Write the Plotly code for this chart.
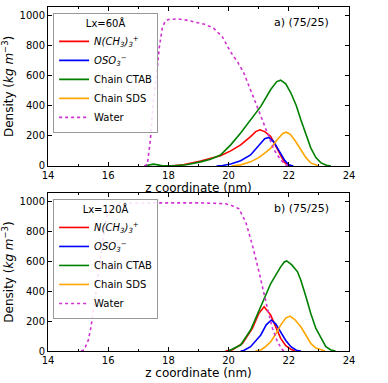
import plotly.graph_objects as go

# panel a) Lx=60 A
z_water_a = [17.2, 17.3, 17.4, 17.5, 17.6, 17.7, 17.8, 17.9, 18.0, 18.3, 18.6, 18.9, 19.2, 19.5, 19.8,
             20.07, 20.3, 20.5, 20.73, 21.01, 21.29, 21.51, 21.73, 21.9, 22.0]
water_a = [0, 10, 170, 430, 590, 790, 920, 962, 972, 976, 968, 955, 940, 915, 855,
           755, 690, 620, 507, 362, 218, 107, 40, 7, 0]

z_ctab_a = [17.2, 17.35, 17.5, 17.65, 17.8, 18.2, 18.6, 19.07, 19.4, 19.73, 20.07, 20.4, 20.73, 21.07,
            21.4, 21.6, 21.73, 21.9, 22.07, 22.25, 22.4, 22.57, 22.73, 22.9, 23.07, 23.25, 23.4]
ctab_a = [0, 8, 12, 7, 1, 1, 8, 27, 45, 72, 140, 218, 307, 395,
          507, 560, 569, 545, 484, 400, 307, 210, 120, 55, 20, 4, 0]

z_n_a = [18.0, 18.5, 19.07, 19.4, 19.73, 20.07, 20.4, 20.73, 20.9, 21.04, 21.2, 21.4, 21.57, 21.73, 21.85, 21.96, 22.1]
n_a = [0, 8, 33, 48, 67, 100, 140, 195, 228, 240, 228, 196, 130, 62, 25, 7, 0]

z_oso_a = [19.6, 19.8, 20.07, 20.4, 20.73, 21.0, 21.2, 21.34, 21.5, 21.62, 21.73, 21.87, 22.0, 22.15]
oso_a = [0, 3, 13, 35, 73, 135, 180, 189, 160, 120, 83, 35, 7, 0]

z_sds_a = [20.1, 20.4, 20.73, 21.0, 21.2, 21.4, 21.6, 21.8, 21.92, 22.05, 22.2, 22.4, 22.57, 22.73, 22.9, 23.0]
sds_a = [0, 7, 27, 55, 85, 118, 170, 215, 224, 210, 170, 107, 55, 20, 4, 0]

# panel b) Lx=120 A
z_water_b = [15.1, 15.2, 15.34, 15.43, 15.51, 15.57, 15.62, 15.7, 15.8, 15.9, 16.0, 16.2, 16.5, 17.0, 18.0,
             19.0, 19.6, 19.9, 20.1, 20.34, 20.57, 20.79, 21.01, 21.18, 21.29, 21.46, 21.62, 21.79, 21.9]
water_b = [0, 7, 73, 162, 273, 384, 430, 560, 720, 850, 930, 975, 988, 990, 990,
           990, 989, 984, 972, 951, 862, 707, 529, 373, 284, 151, 62, 7, 0]

z_ctab_b = [20.0, 20.07, 20.4, 20.73, 21.07, 21.4, 21.73, 21.85, 21.93, 22.1, 22.29, 22.4, 22.57, 22.73,
            22.9, 23.07, 23.23, 23.4, 23.55]
ctab_b = [0, 7, 40, 140, 296, 451, 562, 595, 602, 575, 529, 473, 362, 251,
          151, 84, 29, 7, 0]

z_n_b = [19.9, 20.12, 20.46, 20.79, 21.0, 21.18, 21.4, 21.57, 21.73, 21.9, 22.07, 22.2]
n_b = [0, 7, 51, 151, 250, 296, 240, 160, 84, 35, 11, 0]

z_oso_b = [20.4, 20.5, 20.73, 21.07, 21.25, 21.42, 21.57, 21.73, 21.9, 22.07, 22.25, 22.4]
oso_b = [0, 3, 29, 107, 175, 207, 180, 129, 70, 29, 5, 0]

z_sds_b = [20.9, 21.07, 21.2, 21.4, 21.57, 21.73, 21.9, 22.04, 22.2, 22.4, 22.57, 22.73, 22.9, 23.07, 23.2]
sds_b = [0, 7, 25, 62, 115, 173, 220, 233, 210, 162, 105, 51, 20, 7, 0]

names = ['<i>N(CH<sub>3</sub>)<sub>3</sub><sup>+</sup></i>', '<i>OSO<sub>3</sub><sup>−</sup></i>',
         'Chain CTAB', 'Chain SDS', 'Water']
colors = ['red', 'blue', 'green', 'orange', '#d030d0']

panels = [
    ('x', 'y', 'legend', [(z_n_a, n_a), (z_oso_a, oso_a), (z_ctab_a, ctab_a), (z_sds_a, sds_a), (z_water_a, water_a)]),
    ('x2', 'y2', 'legend2', [(z_n_b, n_b), (z_oso_b, oso_b), (z_ctab_b, ctab_b), (z_sds_b, sds_b), (z_water_b, water_b)]),
]

fig = go.Figure()
for xa, ya, leg, series in panels:
    for (zz, dd), name, col in zip(series, names, colors):
        fig.add_trace(go.Scatter(x=zz, y=dd, mode='lines', name=name, xaxis=xa, yaxis=ya, legend=leg,
                                 line=dict(color=col, width=1.6, dash='dot' if name == 'Water' else 'solid')))

axis_common = dict(showline=True, linecolor='black', linewidth=1, mirror='ticks', ticks='inside',
                   ticklen=4, tickcolor='black', showgrid=False, zeroline=False, layer='above traces',
                   tickfont=dict(family='DejaVu Sans', size=10, color='black'))
xcommon = dict(axis_common, range=[14, 24], dtick=2, tick0=14,
               minor=dict(dtick=1, ticks='inside', ticklen=2, tickcolor='black'),
               title=dict(text='z coordinate (nm)', font=dict(family='DejaVu Sans', size=12), standoff=0))
ycommon = dict(axis_common, range=[0, 1055], dtick=200, tick0=0,
               title=dict(text='Density (<i>kg m</i><sup>−3</sup>)', font=dict(family='DejaVu Sans', size=12),
                          standoff=4))

legend_common = dict(font=dict(family='DejaVu Sans', size=10, color='black'), bgcolor='rgba(255,255,255,0.85)',
                     bordercolor='#999999', borderwidth=1, xanchor='left', yanchor='top',
                     itemwidth=30, tracegroupgap=0)

fig.update_layout(
    width=388, height=383,
    margin=dict(l=48, r=39, t=7, b=32),
    plot_bgcolor='white', paper_bgcolor='white',
    font=dict(family='DejaVu Sans', size=10, color='black'),
    xaxis=dict(xcommon, domain=[0, 1], anchor='y'),
    yaxis=dict(ycommon, domain=[0.538, 1], anchor='x'),
    xaxis2=dict(xcommon, domain=[0, 1], anchor='y2'),
    yaxis2=dict(ycommon, domain=[0, 0.459], anchor='x2'),
    legend=dict(legend_common, x=0.017, y=0.983,
                title=dict(text='Lx=60Å', side='top center', font=dict(size=10))),
    legend2=dict(legend_common, x=0.017, y=0.442,
                 title=dict(text='Lx=120Å', side='top center', font=dict(size=10))),
    showlegend=True,
    annotations=[
        dict(text='a) (75/25)', xref='x domain', yref='y domain', x=0.94, y=0.9, showarrow=False,
             xanchor='right', yanchor='middle', font=dict(family='DejaVu Sans', size=11)),
        dict(text='b) (75/25)', xref='x2 domain', yref='y2 domain', x=0.94, y=0.905, showarrow=False,
             xanchor='right', yanchor='middle', font=dict(family='DejaVu Sans', size=11)),
    ],
)

# drop the default 8px page margin so the figure sits at the window's corner
fig.write_html("out.html", config={'displayModeBar': False},
               post_script="document.body.style.margin='0';")
